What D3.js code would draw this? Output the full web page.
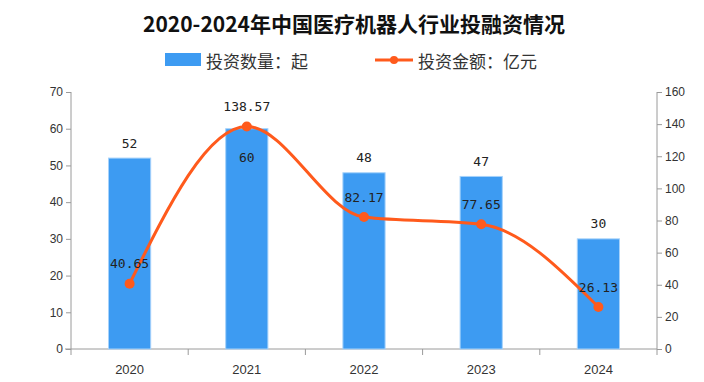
<!DOCTYPE html>
<html><head><meta charset="utf-8">
<script src="https://cdn.jsdelivr.net/npm/d3@7"></script>
<style>
html,body{margin:0;padding:0;background:#fff;}
svg{display:block;}
</style></head>
<body>
<svg id="chart" width="704" height="382"></svg>
<script>
const title = "2020-2024年中国医疗机器人行业投融资情况";
const years = ["2020", "2021", "2022", "2023", "2024"];
const dealCounts = [52, 60, 48, 47, 30];
const amounts = [40.65, 138.57, 82.17, 77.65, 26.13];
const amountLabels = ["40.65", "138.57", "82.17", "77.65", "26.13"];
const leftTicks = [0, 10, 20, 30, 40, 50, 60, 70];
const rightTicks = [0, 20, 40, 60, 80, 100, 120, 140, 160];
const legendNames = ["投资数量：起", "投资金额：亿元"];

const barColor = "#3d9bf2", barEdge = "#a6d2fb", lineColor = "#ff5a1c";
const axisColor = "#9a9a9a", textColor = "#333";
const svg = d3.select("#chart");
const L = 71, R = 657, T = 92, B = 349;

const x = d3.scaleBand().domain(years).range([L, R]).padding(0);
const yL = d3.scaleLinear().domain([0, 70]).range([B, T]);
const yR = d3.scaleLinear().domain([0, 160]).range([B, T]);
const barW = x.bandwidth() * 0.36;
const cx = d => x(d) + x.bandwidth() / 2;

// title
svg.append("text").attr("x", 354).attr("y", 23).attr("text-anchor", "middle")
  .attr("dominant-baseline", "central")
  .style("font-family", "'Noto Sans CJK SC', sans-serif").style("font-weight", "bold")
  .style("font-size", "21px").attr("fill", "#111").text(title);

// legend
const lg = svg.append("g").style("font-family", "'Noto Sans CJK SC', sans-serif").style("font-size", "17px").attr("fill", "#333");
lg.append("rect").attr("x", 165).attr("y", 53).attr("width", 36).attr("height", 13).attr("fill", barColor);
lg.append("text").attr("x", 206).attr("y", 60).attr("dominant-baseline", "central").text(legendNames[0]);
lg.append("line").attr("x1", 375).attr("x2", 413).attr("y1", 60).attr("y2", 60).attr("stroke", lineColor).attr("stroke-width", 3);
lg.append("circle").attr("cx", 394).attr("cy", 60).attr("r", 4).attr("fill", lineColor);
lg.append("text").attr("x", 418).attr("y", 60).attr("dominant-baseline", "central").text(legendNames[1]);

// axes
const axFont = "'Liberation Sans', Arial, sans-serif";
const gl = svg.append("g").attr("transform", `translate(${L},0)`)
  .call(d3.axisLeft(yL).tickValues(leftTicks).tickSize(5).tickPadding(3).tickFormat(d3.format("d")));
const gr = svg.append("g").attr("transform", `translate(${R},0)`)
  .call(d3.axisRight(yR).tickValues(rightTicks).tickSize(5).tickPadding(3).tickFormat(d3.format("d")));
[gl, gr].forEach(g => {
  g.select(".domain").attr("stroke", axisColor).attr("d", `M0,${T}V${B}`);
  g.selectAll(".tick line").attr("stroke", axisColor);
  g.selectAll(".tick text").attr("fill", textColor).style("font-family", axFont).style("font-size", "12px");
});
// x axis
const gx = svg.append("g");
gx.append("line").attr("x1", L - 6).attr("x2", R).attr("y1", B).attr("y2", B).attr("stroke", axisColor);
gx.selectAll("line.tk").data(years.concat(["end"])).join("line").attr("class", "tk")
  .attr("x1", (d, i) => i < years.length ? x(d) : R).attr("x2", (d, i) => i < years.length ? x(d) : R)
  .attr("y1", B).attr("y2", B + 6).attr("stroke", axisColor);
gx.selectAll("text").data(years).join("text")
  .attr("x", d => cx(d)).attr("y", 369).attr("text-anchor", "middle").attr("dominant-baseline", "central")
  .style("font-family", axFont).style("font-size", "13px").attr("fill", textColor).text(d => d);

// bars
svg.append("g").selectAll("rect").data(years).join("rect")
  .attr("x", d => cx(d) - barW / 2).attr("width", barW)
  .attr("y", (d, i) => yL(dealCounts[i])).attr("height", (d, i) => B - yL(dealCounts[i]))
  .attr("fill", barColor).attr("stroke", barEdge).attr("stroke-width", 1);

// line
const line = d3.line().x((d, i) => cx(years[i])).y(d => yR(d)).curve(d3.curveMonotoneX);
svg.append("path").datum(amounts).attr("d", line).attr("fill", "none")
  .attr("stroke", lineColor).attr("stroke-width", 3);
svg.append("g").selectAll("circle").data(amounts).join("circle")
  .attr("cx", (d, i) => cx(years[i])).attr("cy", d => yR(d)).attr("r", 5).attr("fill", lineColor);

// labels
const lblFont = "'DejaVu Sans Mono', monospace";
svg.append("g").selectAll("text").data(dealCounts).join("text")
  .attr("x", (d, i) => cx(years[i]))
  .attr("y", (d, i) => i === 1 ? yL(d) + 29 : yL(d) - 15)
  .attr("text-anchor", "middle").attr("dominant-baseline", "central")
  .style("font-family", lblFont).style("font-size", "13px").attr("fill", "#222").text(d => d);
svg.append("g").selectAll("text").data(amounts).join("text")
  .attr("x", (d, i) => cx(years[i])).attr("y", d => yR(d) - 20)
  .attr("text-anchor", "middle").attr("dominant-baseline", "central")
  .style("font-family", lblFont).style("font-size", "13px").attr("fill", "#222").text((d, i) => amountLabels[i]);
</script>
</body></html>
